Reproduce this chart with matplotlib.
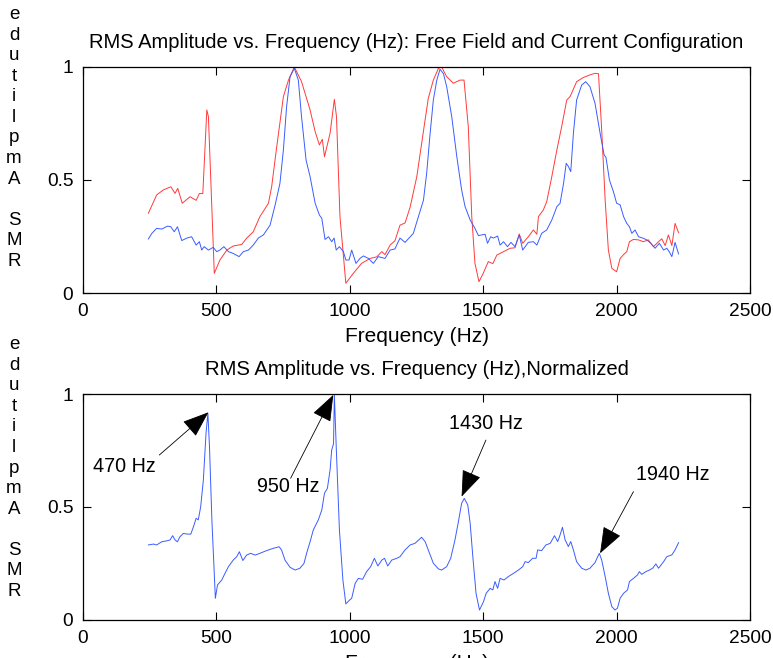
import matplotlib
matplotlib.use('Agg')
import matplotlib.pyplot as plt

plt.rcParams['font.family'] = ['Liberation Sans', 'DejaVu Sans']

# ---- data ----
# top panel, red: free field
red_f = [245, 276, 301, 329, 345, 355, 372, 401, 424, 436, 449, 464, 470, 492, 513, 539,
         563, 595, 613, 638, 663, 695, 707, 726, 751, 770, 792, 819, 851, 870, 886, 897,
         905, 926, 942, 950, 963, 985, 1013, 1044, 1076, 1101, 1120, 1132, 1151, 1169,
         1188, 1207, 1226, 1251, 1282, 1294, 1313, 1332, 1344, 1363, 1388, 1413, 1428,
         1444, 1457, 1469, 1484, 1500, 1519, 1536, 1551, 1576, 1601, 1619, 1635, 1648,
         1669, 1688, 1701, 1707, 1725, 1738, 1757, 1776, 1794, 1813, 1826, 1850, 1876,
         1900, 1919, 1932, 1944, 1957, 1969, 1982, 2000, 2013, 2026, 2038, 2048, 2063,
         2082, 2100, 2119, 2138, 2157, 2169, 2182, 2194, 2207, 2219, 2232]
red_v = [.353, .434, .456, .47, .441, .463, .397, .426, .41, .44, .44, .81, .78, .087, .146, .19,
         .208, .215, .242, .271, .338, .397, .47, .647, .869, .942, 1.0, .935, .81, .714, .655, .68,
         .603, .707, .857, .78, .338, .043, .087, .131, .153, .16, .183, .17, .212, .231,
         .30, .31, .38, .515, .765, .861, .942, .994, 1.0, .957, .928, .942, .942,
         .736, .338, .131, .05, .087, .139, .13, .168, .183, .198, .20, .261, .22,
         .249, .279, .26, .338, .367, .404, .515, .633, .736, .854, .87, .935, .954,
         .965, .972, .97, .721, .411, .19, .109, .094, .153, .17, .183, .227, .237,
         .235, .227, .235, .205, .227, .24, .21, .257, .21, .308, .267]

# top panel, blue: current configuration
blue_f = [245, 258, 276, 295, 317, 329, 342, 354, 370, 389, 407, 424, 436, 445, 454, 470,
          488, 501, 513, 528, 545, 563, 585, 601, 620, 638, 657, 676, 701, 720, 738, 751,
          763, 776, 792, 807, 819, 836, 851, 870, 886, 895, 907, 920, 932, 941, 949, 961,
          976, 985, 997, 1007, 1023, 1038, 1051, 1070, 1088, 1107, 1132, 1151, 1169, 1188,
          1207, 1238, 1257, 1276, 1288, 1301, 1313, 1326, 1338, 1351, 1363, 1382, 1401,
          1419, 1432, 1451, 1469, 1482, 1507, 1516, 1528, 1538, 1554, 1563, 1576, 1591,
          1604, 1619, 1635, 1648, 1669, 1688, 1701, 1719, 1738, 1757, 1776, 1788, 1801,
          1811, 1819, 1828, 1838, 1850, 1869, 1884, 1900, 1919, 1938, 1953, 1960, 1973,
          1988, 2000, 2013, 2026, 2038, 2048, 2057, 2069, 2082, 2098, 2113, 2128, 2144,
          2160, 2176, 2188, 2197, 2207, 2219, 2232]
blue_v = [.239, .264, .286, .283, .296, .293, .271, .293, .232, .243, .249, .212, .227, .19, .205, .19,
          .202, .183, .19, .205, .183, .175, .161, .183, .19, .212, .243, .257, .30, .389, .485, .633,
          .824, .957, .994, .942, .78, .588, .515, .397, .345, .33, .237, .249, .227, .243, .19, .205,
          .183, .146, .146, .19, .131, .153, .164, .153, .131, .161, .153, .19, .195, .243,
          .224, .264, .338, .411, .53, .707, .854, .942, .99, .97, .913, .78, .603,
          .456, .382, .323, .286, .254, .26, .22, .249, .243, .252, .212, .227, .205,
          .224, .205, .257, .19, .224, .227, .212, .264, .279, .323, .382, .397, .485,
          .574, .56, .537, .707, .854, .92, .935, .913, .839, .707, .611, .60, .50,
          .448, .397, .39, .338, .308, .293, .264, .279, .249, .243, .235, .22, .198,
          .22, .19, .198, .183, .161, .224, .173]

# bottom panel: normalized
norm_f = [245, 264, 276, 295, 313, 326, 336, 345, 354, 363, 376, 391, 404, 414, 424, 432,
          441, 451, 461, 468, 474, 483, 496, 504, 520, 532, 545, 563, 576, 586, 599, 613,
          628, 645, 663, 688, 713, 735, 744, 757, 776, 795, 813, 828, 838, 851, 863, 882,
          895, 905, 916, 926, 932, 939, 942, 949, 961, 974, 985, 999, 1007, 1020, 1032,
          1048, 1063, 1078, 1092, 1105, 1120, 1130, 1142, 1157, 1176, 1188, 1207, 1226,
          1244, 1269, 1282, 1301, 1313, 1332, 1344, 1363, 1378, 1394, 1407, 1419, 1429,
          1442, 1451, 1461, 1473, 1486, 1501, 1511, 1526, 1536, 1544, 1554, 1563, 1578,
          1594, 1613, 1632, 1648, 1657, 1669, 1685, 1698, 1704, 1719, 1735, 1751, 1767,
          1779, 1786, 1797, 1807, 1819, 1828, 1838, 1850, 1869, 1885, 1900, 1919, 1935,
          1944, 1957, 1969, 1982, 1994, 2003, 2013, 2026, 2041, 2048, 2063, 2078, 2085,
          2094, 2110, 2123, 2135, 2147, 2157, 2176, 2188, 2207, 2219, 2232]
norm_v = [.332, .336, .332, .346, .35, .354, .373, .354, .346, .368, .383, .38, .38, .413, .45, .443,
          .501, .619, .826, .915, .767, .442, .096, .155, .177, .206, .236, .265, .28, .302, .263, .287,
          .295, .287, .295, .307, .317, .324, .31, .265, .233, .221, .229, .25, .295, .346, .398, .443,
          .487, .561, .583, .664, .752, .78, 1.0, .767, .398, .177, .071, .088, .096, .162, .184,
          .18, .214, .236, .273, .239, .265, .273, .239, .265, .273, .28, .31, .332,
          .339, .366, .347, .288, .251, .226, .221, .236, .273, .354, .435, .516, .538,
          .509, .428, .28, .118, .044, .081, .118, .14, .133, .17, .14, .184, .177,
          .192, .206, .221, .236, .258, .254, .273, .273, .31, .307, .332, .339, .373,
          .347, .369, .41, .354, .325, .347, .31, .258, .229, .221, .229, .254, .295,
          .265, .192, .118, .059, .044, .052, .096, .118, .133, .17, .184, .199, .214,
          .202, .214, .221, .229, .248, .229, .258, .28, .288, .31, .342]

# peak labels: text, arrow tip (f, v), text anchor (f, v), arrow tail (f, v)
peak_txt = ['470 Hz', '950 Hz', '1430 Hz', '1940 Hz']
peak_tip = [(470, 0.919), (938, 0.996), (1419, 0.546), (1938, 0.295)]
peak_lab = [(37, 0.678), (651, 0.59), (1373, 0.87), (2071, 0.642)]
peak_tail = [(286, 0.73), (778, 0.627), (1510, 0.796), (2063, 0.568)]

xticks = [0, 500, 1000, 1500, 2000, 2500]
yticks = [0, 0.5, 1]
fs = 13.8

fig = plt.figure(figsize=(7.73, 6.58), dpi=100)
ax1 = fig.add_axes([0.1074, 0.5547, 0.8629, 0.3435])
ax2 = fig.add_axes([0.1074, 0.0578, 0.8629, 0.3434])

ax1.plot(red_f, red_v, color='#ff3a3a', lw=0.7)
ax1.plot(blue_f, blue_v, color='#3a5cff', lw=0.7)
ax2.plot(norm_f, norm_v, color='#3a5cff', lw=0.7)

for ax in (ax1, ax2):
    ax.set_xlim(0, 2500)
    ax.set_ylim(0, 1)
    ax.set_xticks(xticks)
    ax.set_yticks(yticks)
    ax.set_yticklabels(['0', '0.5', '1'])
    ax.tick_params(direction='in', length=6, width=0.8, top=True, right=True,
                   labelsize=fs, pad=7, colors='k')
    for s in ax.spines.values():
        s.set_linewidth(0.9)

ax1.set_title('RMS Amplitude vs. Frequency (Hz): Free Field and Current Configuration',
              fontsize=14.5, pad=14)
ax1.set_xlabel('Frequency (Hz)', fontsize=15, labelpad=5)
ax2.set_title('RMS Amplitude vs. Frequency (Hz),Normalized', fontsize=14.6, pad=14)
ax2.set_xlabel('Frequency (Hz)', fontsize=15, labelpad=5)

# MATLAB-style stacked y label
ylab = '\n'.join(list('RMS Amplitude'[::-1]))
fig.text(14 / 773, 1 - 138 / 658, ylab, fontsize=13.5, ha='center', va='center',
         linespacing=1.27)
fig.text(14 / 773, 1 - 468 / 658, ylab, fontsize=13.5, ha='center', va='center',
         linespacing=1.27)

for txt, tip, lab, tail in zip(peak_txt, peak_tip, peak_lab, peak_tail):
    ax2.text(lab[0], lab[1], txt, fontsize=14.2, ha='left', va='center')
    ax2.annotate('', xy=tip, xytext=tail,
                 arrowprops=dict(arrowstyle='-|>,head_length=1.2,head_width=0.45',
                                 color='k', lw=0.6, shrinkA=0, shrinkB=0,
                                 mutation_scale=14))

plt.savefig('out.png', dpi=100)
